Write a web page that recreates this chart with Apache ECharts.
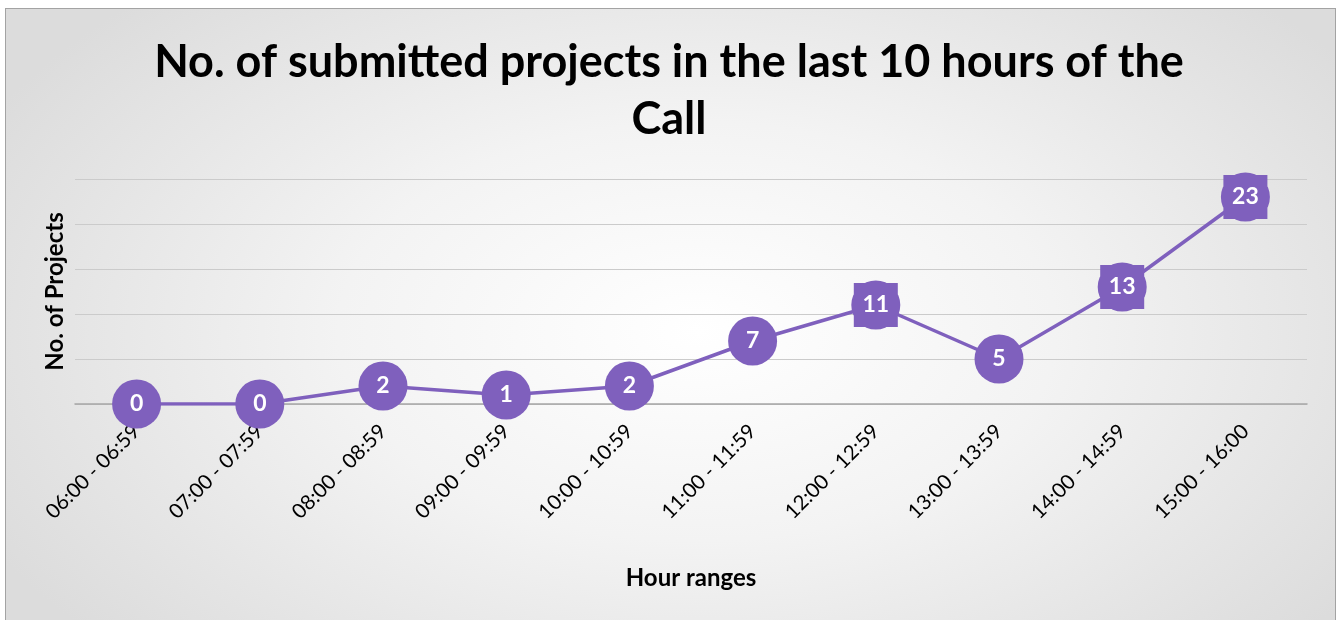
<!DOCTYPE html>
<html>
<head>
<meta charset="utf-8">
<script src="https://cdn.jsdelivr.net/npm/echarts@6/dist/echarts.min.js"></script>
<style>
  html, body { margin: 0; padding: 0; background: #fff; }
  #frame {
    position: absolute; left: 5px; top: 8px; width: 1329px; height: 620px;
    border: 1px solid #a3a3a3;
    background: radial-gradient(ellipse 60% 75% at 52% 52%, #ffffff 0%, #f3f3f3 45%, #dcdcdc 100%);
  }
  #chart { position: absolute; left: 0; top: 0; width: 1338px; height: 620px; }
</style>
</head>
<body>
<div id="frame"></div>
<div id="chart"></div>
<script>
// hour ranges and submitted projects per range
const hourRanges = [
  '06:00 - 06:59', '07:00 - 07:59', '08:00 - 08:59', '09:00 - 09:59', '10:00 - 10:59',
  '11:00 - 11:59', '12:00 - 12:59', '13:00 - 13:59', '14:00 - 14:59', '15:00 - 16:00',
]
const projects = [0, 0, 2, 1, 2, 7, 11, 5, 13, 23]

const purple = '#7F60BD'
// circle with square corners (the Excel marker look on a few points)
const squaredCircle =
  'path://M0 24.5A24.5 24.5 0 1 1 49 24.5A24.5 24.5 0 1 1 0 24.5Z M2.5 2.5L46.5 2.5L46.5 46.5L2.5 46.5Z'
const squaredIdx = [6, 8, 9]

const chart = echarts.init(document.getElementById('chart'))
chart.setOption({
  backgroundColor: 'transparent',
  animation: false,
  textStyle: { fontFamily: 'Lato' },
  title: {
    text: 'No. of submitted projects in the last 10 hours of the\nCall',
    left: 'center',
    top: 29,
    textStyle: {
      fontFamily: 'Lato',
      fontSize: 45,
      fontWeight: 'bold',
      color: '#000',
      lineHeight: 57,
    },
  },
  grid: {
    left: 75,
    right: 31,
    top: 179,
    bottom: 216,
  },
  xAxis: {
    type: 'category',
    data: hourRanges,
    name: 'Hour ranges',
    nameLocation: 'middle',
    nameGap: 162,
    nameTextStyle: { fontSize: 24, fontWeight: 'bold', color: '#000' },
    axisTick: { show: false },
    axisLine: { lineStyle: { color: '#a6a6a6', width: 1.5 } },
    axisLabel: {
      rotate: 45,
      margin: 24,
      fontSize: 20.5,
      color: '#000',
      interval: 0,
    },
    splitLine: { show: false },
  },
  yAxis: {
    type: 'value',
    min: 0,
    max: 25,
    interval: 5,
    name: 'No. of Projects',
    nameLocation: 'middle',
    nameGap: 8,
    nameTextStyle: { fontSize: 24, fontWeight: 'bold', color: '#000' },
    axisLabel: { show: false },
    axisLine: { show: false },
    axisTick: { show: false },
    splitLine: { lineStyle: { color: '#cbcbcb', width: 1.2 } },
  },
  series: [
    {
      type: 'line',
      data: projects.map((v, i) =>
        squaredIdx.includes(i) ? { value: v, symbol: squaredCircle } : v
      ),
      symbol: 'circle',
      symbolSize: 49,
      lineStyle: { color: purple, width: 3.5 },
      itemStyle: { color: purple },
      label: {
        show: true,
        position: 'inside',
        color: '#fff',
        fontSize: 23,
        fontWeight: 'bold',
        fontFamily: 'Lato',
      },
    },
  ],
})
</script>
</body>
</html>
